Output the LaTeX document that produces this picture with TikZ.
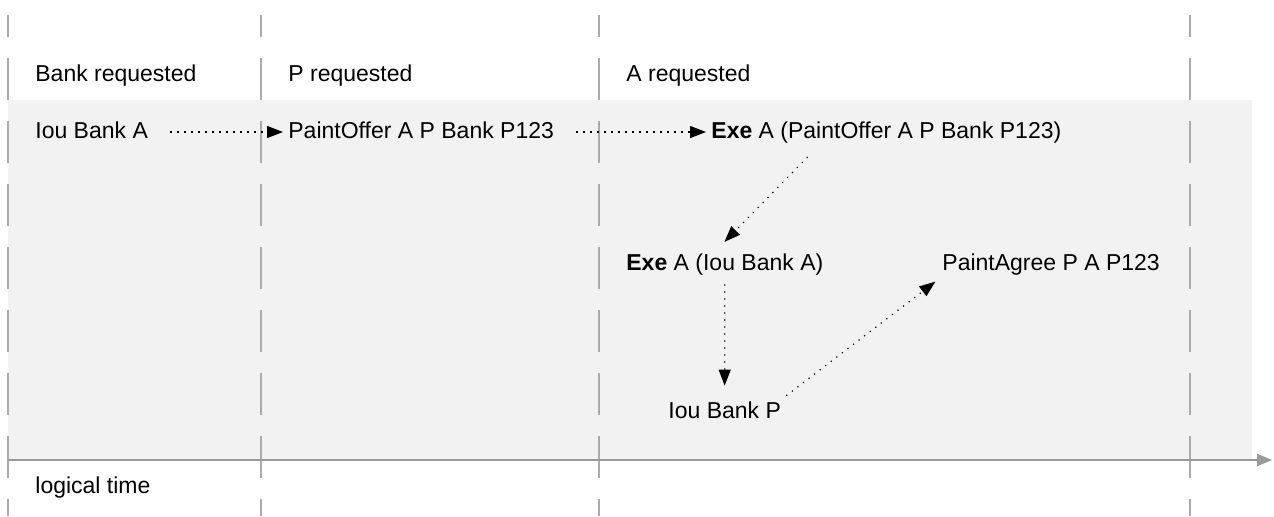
\documentclass[tikz,border=0pt]{standalone}
\usepackage{fontspec}
\setmainfont{Liberation Sans}
\usetikzlibrary{arrows.meta}

\begin{document}
\begin{tikzpicture}[
    x=0.5pt, y=-0.5pt,
    lbl/.style={
        anchor=base west,
        inner sep=2.5pt,
        text height=8.5pt,    % same box for every label
        text depth=2.5pt,
        font=\fontsize{11.5}{14}\selectfont
    },
    lane/.style={
        draw=black!33,
        line width=0.6pt,
        dash pattern=on 21pt off 10.5pt,
        dash phase=10pt
    },
    flow/.style={
        line width=0.6pt,
        dash pattern=on 0.6pt off 2.9pt,  % fine dotted connector
        -{Triangle[length=8pt,width=6pt]}
    }
]
\useasboundingbox (0,0) rectangle (1274,516);

% shaded band behind the events
\fill[black!5] (8,100) rectangle (1252,460);

% phase boundaries
\foreach \x in {8,261,599,1190}
    \draw[lane] (\x,15) -- (\x,516);

% time axis
\coordinate (t0) at (8,460);
\coordinate (t1) at (1272,460);
\draw[black!40, line width=1pt, -{Triangle[length=7.5pt,width=6pt]}] (t0) -- (t1);

% headers
\node[lbl] (hdrBank) at (30,81) {Bank requested};
\node[lbl] (hdrP) at (283,81) {P requested};
\node[lbl] (hdrA) at (621,81) {A requested};

% events
\node[lbl] (iouA) at (30,138) {Iou Bank A};
\node[lbl] (offer) at (283,138) {PaintOffer A P Bank P123};
\node[lbl] (exeOffer) at (706,138) {\textbf{Exe} A (PaintOffer A P Bank P123)};
\node[lbl] (exeIou) at (621,270) {\textbf{Exe} A (Iou Bank A)};
\node[lbl] (agree) at (937,270) {PaintAgree P A P123};
\node[lbl] (iouP) at (663,418) {Iou Bank P};
\node[lbl] (time) at (30,493) {logical time};

% connectors
\draw[flow, shorten <=8.5pt] (iouA) -- (offer);
\draw[flow, shorten <=8.5pt] (offer) -- (exeOffer);
\draw[flow, shorten <=6pt, shorten >=4pt] ([xshift=55pt]exeOffer.south west) -- ([xshift=-3pt]exeIou.north);
\draw[flow, shorten <=2pt, shorten >=5pt] (exeIou.south) -- (iouP.north);
\draw[flow, shorten >=1pt] (iouP.north east) -- (agree.south west);
\end{tikzpicture}
\end{document}
